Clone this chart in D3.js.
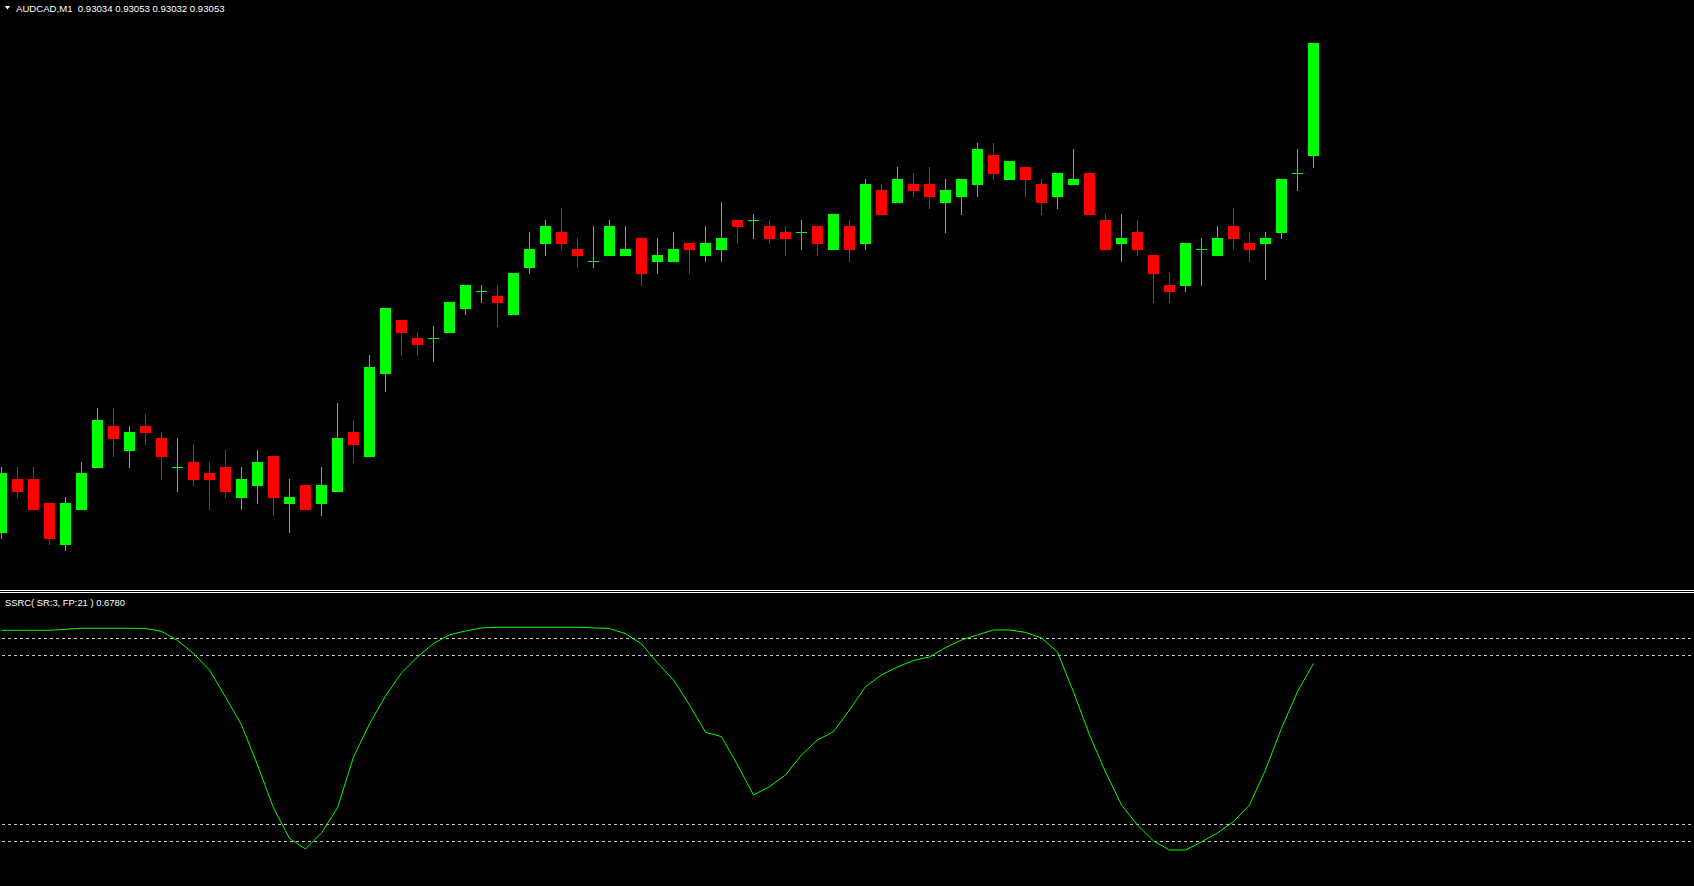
<!DOCTYPE html>
<html>
<head>
<meta charset="utf-8">
<script src="https://cdn.jsdelivr.net/npm/d3@7"></script>
<style>
  html, body { margin: 0; padding: 0; background: #000; }
  svg { display: block; }
</style>
</head>
<body>
<svg id="chart" width="1694" height="886"></svg>
<script>
// ---- Data (AUDCAD, M1) ----
const symbol = "AUDCAD,M1";
const barIndex = d3.range(-1, 82); // 83 bars, last one is the current bar

const opens = [
  0.92970,0.92979,0.92979,0.92975,0.92968,0.92974,0.92981,0.92988,0.92984,0.92988,
  0.92986,0.92981,0.92982,0.92980,0.92981,0.92976,0.92978,0.92983,0.92975,0.92978,
  0.92975,0.92977,0.92987,0.92983,0.92997,0.93006,0.93003,0.93003,0.93004,0.93008,
  0.93011,0.93010,0.93007,0.93015,0.93019,0.93021,0.93018,0.93016,0.93017,0.93017,
  0.93020,0.93016,0.93016,0.93019,0.93017,0.93018,0.93023,0.93023,0.93022,0.93021,
  0.93021,0.93022,0.93018,0.93022,0.93019,0.93028,0.93026,0.93029,0.93029,0.93026,
  0.93027,0.93029,0.93034,0.93030,0.93032,0.93029,0.93027,0.93029,0.93031,0.93023,
  0.93019,0.93021,0.93017,0.93012,0.93012,0.93018,0.93017,0.93022,0.93019,0.93019,
  0.93021,0.93031,0.93034
];
const highs = [
  0.92981,0.92981,0.92981,0.92975,0.92976,0.92982,0.92991,0.92991,0.92988,0.92990,
  0.92987,0.92986,0.92985,0.92982,0.92984,0.92981,0.92984,0.92983,0.92979,0.92978,
  0.92981,0.92992,0.92989,0.93000,0.93008,0.93006,0.93004,0.93005,0.93009,0.93012,
  0.93012,0.93012,0.93014,0.93021,0.93023,0.93025,0.93020,0.93022,0.93023,0.93022,
  0.93020,0.93020,0.93021,0.93019,0.93022,0.93026,0.93023,0.93024,0.93023,0.93022,
  0.93023,0.93022,0.93024,0.93023,0.93030,0.93029,0.93032,0.93031,0.93032,0.93030,
  0.93030,0.93036,0.93036,0.93033,0.93032,0.93030,0.93031,0.93035,0.93031,0.93024,
  0.93024,0.93023,0.93017,0.93014,0.93019,0.93020,0.93022,0.93025,0.93021,0.93021,
  0.93030,0.93035,0.93053
];
const lows = [
  0.92969,0.92976,0.92974,0.92968,0.92967,0.92974,0.92981,0.92983,0.92981,0.92985,
  0.92979,0.92977,0.92978,0.92974,0.92976,0.92974,0.92975,0.92973,0.92970,0.92974,
  0.92973,0.92977,0.92982,0.92983,0.92994,0.93000,0.93000,0.92999,0.93004,0.93007,
  0.93009,0.93005,0.93007,0.93014,0.93017,0.93018,0.93015,0.93015,0.93017,0.93017,
  0.93012,0.93014,0.93016,0.93014,0.93016,0.93016,0.93019,0.93020,0.93019,0.93017,
  0.93018,0.93017,0.93018,0.93016,0.93018,0.93024,0.93026,0.93027,0.93025,0.93021,
  0.93024,0.93027,0.93030,0.93030,0.93027,0.93024,0.93025,0.93029,0.93024,0.93018,
  0.93016,0.93017,0.93009,0.93009,0.93011,0.93012,0.93017,0.93018,0.93016,0.93013,
  0.93020,0.93028,0.93032
];
const closes = [
  0.92980,0.92977,0.92974,0.92969,0.92975,0.92980,0.92989,0.92986,0.92987,0.92987,
  0.92983,0.92981,0.92979,0.92979,0.92977,0.92979,0.92982,0.92976,0.92976,0.92974,
  0.92978,0.92986,0.92985,0.92998,0.93008,0.93004,0.93002,0.93003,0.93009,0.93012,
  0.93011,0.93009,0.93014,0.93018,0.93022,0.93019,0.93017,0.93016,0.93022,0.93018,
  0.93014,0.93017,0.93018,0.93018,0.93019,0.93020,0.93022,0.93023,0.93020,0.93020,
  0.93021,0.93019,0.93024,0.93018,0.93029,0.93024,0.93030,0.93028,0.93027,0.93028,
  0.93030,0.93035,0.93031,0.93033,0.93030,0.93026,0.93031,0.93030,0.93024,0.93018,
  0.93020,0.93018,0.93014,0.93011,0.93019,0.93018,0.93020,0.93020,0.93018,0.93020,
  0.93030,0.93031,0.93053
];

// SSRC(SR:3, FP:21) indicator values, one per bar
const ssrc = [
  0.973,0.973,0.973,0.973,0.982,0.991,0.991,0.991,0.991,0.989,
  0.963,0.883,0.767,0.620,0.380,0.132,-0.224,-0.606,-0.877,-0.971,
  -0.828,-0.606,-0.153,0.140,0.389,0.594,0.736,0.856,0.932,0.967,
  0.994,1.000,1.000,1.000,1.000,1.000,1.000,0.994,0.989,0.943,
  0.852,0.683,0.532,0.309,0.067,0.028,-0.224,-0.491,-0.417,-0.313,
  -0.135,-0.002,0.072,0.265,0.472,0.576,0.647,0.705,0.736,0.819,
  0.887,0.932,0.976,0.976,0.954,0.905,0.780,0.425,0.043,-0.286,
  -0.580,-0.758,-0.900,-0.980,-0.980,-0.908,-0.828,-0.728,-0.580,-0.268,
  0.102,0.428,0.678
];
const ssrcLevels = [0.9, 0.75, -0.75, -0.9];
const indicatorName = "SSRC( SR:3, FP:21 )";

// ---- Layout ----
const W = 1694, H = 886;
const svg = d3.select("#chart");
svg.append("rect").attr("width", W).attr("height", H).attr("fill", "#000");

const bull = "#00ff00", bear = "#ff0000";

const x = d3.scaleLinear().domain([-1, 81]).range([1.5, 1313.5]);
const y = d3.scaleLinear().domain([0.92961, 0.93060]).range([585.34, 1.735]);
const yi = d3.scaleLinear().domain([-1.3, 1.3]).range([886, 593.5]);

const bars = barIndex.map((k, i) => ({
  k, o: opens[i], h: highs[i], l: lows[i], c: closes[i]
}));

const main = svg.append("g").attr("shape-rendering", "crispEdges");

// wicks
main.selectAll("rect.wick").data(bars).join("rect")
  .attr("class", "wick")
  .attr("x", d => x(d.k) - 0.5)
  .attr("width", 1)
  .attr("y", d => Math.round(y(d.h)))
  .attr("height", d => Math.round(y(d.l)) - Math.round(y(d.h)) + 1)
  .attr("fill", d => d.c >= d.o ? bull : bear);

// bodies
main.selectAll("rect.body").data(bars).join("rect")
  .attr("class", "body")
  .attr("x", d => x(d.k) - 5.5)
  .attr("width", 11)
  .attr("y", d => Math.round(y(Math.max(d.o, d.c))))
  .attr("height", d => Math.round(y(Math.min(d.o, d.c))) - Math.round(y(Math.max(d.o, d.c))) + 1)
  .attr("fill", d => d.c >= d.o ? bull : bear);

// header
const last = bars[bars.length - 1];
svg.append("path")
  .attr("d", "M5,6 L10,6 L7.5,9.5 Z")
  .attr("fill", "#ffffff");
svg.append("text")
  .attr("x", 16).attr("y", 11.5)
  .attr("fill", "#ffffff")
  .attr("font-family", "'Liberation Sans', Arial, sans-serif")
  .attr("font-size", 9.6)
  .attr("xml:space", "preserve")
  .text(`${symbol}  ${d3.format(".5f")(last.o)} ${d3.format(".5f")(last.h)} ${d3.format(".5f")(last.l)} ${d3.format(".5f")(last.c)}`);

// separator between panels
svg.append("g").attr("shape-rendering", "crispEdges")
  .selectAll("line").data([590.5, 592.5]).join("line")
  .attr("x1", 0).attr("x2", W)
  .attr("y1", d => d).attr("y2", d => d)
  .attr("stroke", "#ffffff").attr("stroke-width", 1);

// indicator levels
svg.append("g").attr("shape-rendering", "crispEdges")
  .selectAll("line").data(ssrcLevels).join("line")
  .attr("x1", 2).attr("x2", W)
  .attr("y1", d => Math.floor(yi(d)) + 0.5)
  .attr("y2", d => Math.floor(yi(d)) + 0.5)
  .attr("stroke", "#c8c8c8").attr("stroke-width", 1)
  .attr("stroke-dasharray", "3,3");

// indicator line
const line = d3.line()
  .x((d, i) => x(barIndex[i]))
  .y(d => yi(d));
svg.append("path")
  .datum(ssrc)
  .attr("d", line)
  .attr("fill", "none")
  .attr("stroke", "#00ff00")
  .attr("stroke-width", 1);

// indicator label
svg.append("text")
  .attr("x", 5).attr("y", 605.5)
  .attr("fill", "#ffffff")
  .attr("font-family", "'Liberation Sans', Arial, sans-serif")
  .attr("font-size", 9.4)
  .text(`${indicatorName} ${d3.format(".4f")(ssrc[ssrc.length - 1])}`);
</script>
</body>
</html>
